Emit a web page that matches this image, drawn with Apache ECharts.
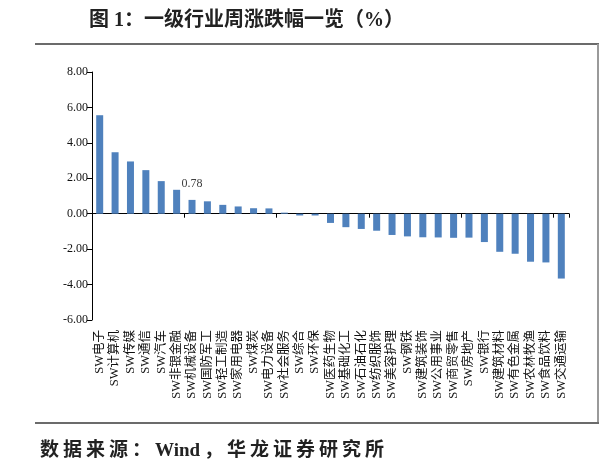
<!DOCTYPE html>
<html>
<head>
<meta charset="utf-8">
<script src="https://cdn.jsdelivr.net/npm/echarts@6/dist/echarts.min.js"></script>
<style>
html,body{margin:0;padding:0;background:#fff;}
#main{width:601px;height:467px;}
</style>
</head>
<body>
<div id="main"></div>
<script>
var categories = ['SW电子','SW计算机','SW传媒','SW通信','SW汽车','SW非银金融','SW机械设备','SW国防军工','SW轻工制造','SW家用电器','SW煤炭','SW电力设备','SW社会服务','SW综合','SW环保','SW医药生物','SW基础化工','SW石油石化','SW纺织服饰','SW美容护理','SW钢铁','SW建筑装饰','SW公用事业','SW商贸零售','SW房地产','SW银行','SW建筑材料','SW有色金属','SW农林牧渔','SW食品饮料','SW交通运输'];
var changes = [5.56, 3.47, 2.95, 2.46, 1.84, 1.35, 0.78, 0.70, 0.50, 0.41, 0.31, 0.30, 0.06, -0.10, -0.10, -0.52, -0.76, -0.86, -0.96, -1.20, -1.28, -1.33, -1.34, -1.36, -1.35, -1.60, -2.15, -2.26, -2.71, -2.75, -3.66];
var labeledCategory = 'SW机械设备';
var yTicks = {min: -6, max: 8, interval: 2};
var titleText = '图 1：一级行业周涨跌幅一览（%）';
var sourceParts = ['数','据','来','源','：','Wind','，','华','龙','证','券','研','究','所'];

var FONT = "'Liberation Serif', 'Noto Sans CJK SC', serif";
var chart = echarts.init(document.getElementById('main'), null, {renderer: 'canvas'});
var seriesData = changes.map(function (v, i) {
  var d = {value: v};
  if (categories[i] === labeledCategory) {
    d.label = {show: true, position: 'top', distance: 10, formatter: function (p) { return p.value.toFixed(2); },
      fontFamily: FONT, fontSize: 12, color: '#404040'};
  }
  return d;
});
var sourceRich = sourceParts.map(function (s) { return '{c|' + s + '}'; }).join('');
chart.setOption({
  animation: false,
  backgroundColor: '#fff',
  title: [{
    text: titleText, left: 84, top: 6,
    textStyle: {fontFamily: FONT, fontSize: 20, fontWeight: 'bold', color: '#222'}
  }, {
    text: sourceRich, left: 33, top: 437,
    textStyle: {
      fontFamily: FONT, fontSize: 19, fontWeight: 'bold', color: '#222',
      rich: {c: {fontFamily: FONT, fontSize: 19, fontWeight: 'bold', color: '#222', padding: [0, 2, 0, 2]}}
    }
  }],
  graphic: [
    {type: 'line', shape: {x1: 35, y1: 44, x2: 599, y2: 44}, style: {stroke: '#6b6b6b', lineWidth: 2}},
    {type: 'line', shape: {x1: 598, y1: 44, x2: 598, y2: 424}, style: {stroke: '#9a9a9a', lineWidth: 2}},
    {type: 'line', shape: {x1: 35, y1: 423, x2: 599, y2: 423}, style: {stroke: '#6b6b6b', lineWidth: 2}}
  ],
  grid: {left: 92, right: 32, top: 72, bottom: 147, containLabel: false},
  xAxis: [{
    type: 'category', data: categories,
    axisLine: {onZero: true, lineStyle: {color: '#000', width: 1}},
    axisTick: {show: true, alignWithLabel: false, length: 4, lineStyle: {color: '#000'}},
    axisLabel: {show: false},
    splitLine: {show: false}
  }, {
    type: 'category', data: categories, position: 'bottom',
    axisLine: {show: false, onZero: false},
    axisTick: {show: false},
    axisLabel: {show: true, rotate: 90, margin: 10, interval: 0, fontFamily: FONT, fontSize: 12.5, color: '#111'},
    splitLine: {show: false}
  }],
  yAxis: {
    type: 'value', min: yTicks.min, max: yTicks.max, interval: yTicks.interval,
    axisLine: {show: true, lineStyle: {color: '#000', width: 1}},
    axisTick: {show: true, length: 5, lineStyle: {color: '#000'}},
    axisLabel: {margin: 4, fontFamily: FONT, fontSize: 12, color: '#111', formatter: function (v) { return v.toFixed(2); }},
    splitLine: {show: false}
  },
  series: [{
    type: 'bar', xAxisIndex: 0, data: seriesData, barWidth: 7,
    itemStyle: {color: '#4F81BD'}
  }]
});
</script>
</body>
</html>
